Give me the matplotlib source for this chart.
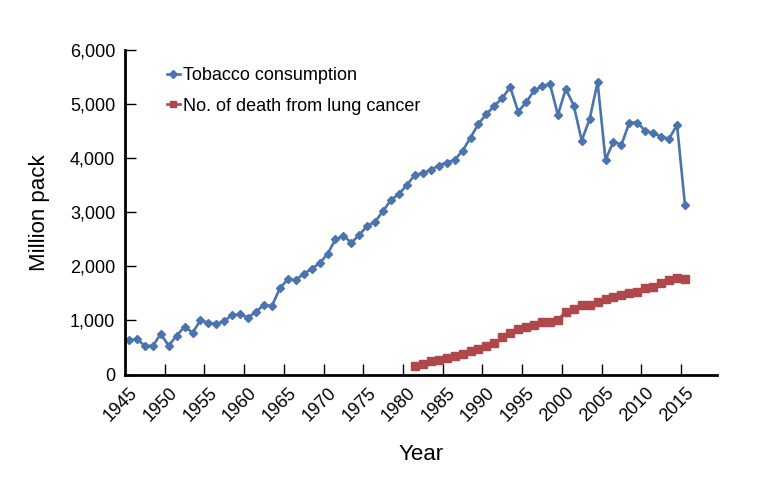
import matplotlib
matplotlib.use('Agg')
import matplotlib.pyplot as plt
import numpy as np

plt.rcParams['font.family'] = ['Liberation Sans', 'DejaVu Sans']

# tobacco consumption, 1945-2015 (million pack)
tobacco_years = list(range(1945, 2016))
tobacco = [638, 651, 533, 527, 749, 533, 718, 884, 773, 1002,
           958, 934, 990, 1100, 1113, 1051, 1162, 1286, 1267, 1594,
           1761, 1748, 1859, 1952, 2057, 2229, 2501, 2562, 2438, 2581,
           2747, 2827, 3025, 3228, 3339, 3506, 3691, 3722, 3783, 3863,
           3918, 3968, 4135, 4381, 4634, 4813, 4967, 5110, 5313, 4862,
           5029, 5251, 5325, 5374, 4801, 5282, 4973, 4325, 4721, 5405,
           3968, 4307, 4246, 4658, 4658, 4505, 4462, 4400, 4357, 4616,
           3136]

# deaths from lung cancer, 1981-2015
death_years = list(range(1981, 2016))
deaths = [157, 194, 244, 268, 311, 348, 385, 435, 477, 527,
          577, 688, 762, 836, 879, 916, 971, 971, 1008, 1162,
          1206, 1280, 1286, 1347, 1391, 1428, 1465, 1514, 1526, 1600,
          1619, 1693, 1743, 1780, 1761]

label_years = list(range(1945, 2020, 5))
y_ticks = [0, 1000, 2000, 3000, 4000, 5000, 6000]

BLUE = '#4b74ae'
RED = '#b0474b'

fig = plt.figure(figsize=(7.74, 4.9), dpi=100)
ax = fig.add_axes([0.1615, 0.2357, 0.7645, 0.6623])

ax.plot(tobacco_years, tobacco, color=BLUE, lw=1.9, marker='D', ms=4.5,
        label='Tobacco consumption')
ax.plot(death_years, deaths, color=RED, lw=1.9, marker='s', ms=6,
        label='No. of death from lung cancer')

ax.set_xlim(1944.5, 2019)
ax.set_ylim(0, 6000)

ax.set_xticks(label_years)
ax.set_xticklabels([str(y) for y in label_years], rotation=45,
                   ha='right', va='top', rotation_mode='anchor')
ax.set_xticks([y - 0.5 for y in label_years[1:]], minor=True)
ax.tick_params(axis='x', which='major', length=0, pad=7, labelsize=13)
ax.tick_params(axis='x', which='minor', length=8, width=1, direction='in')

ax.set_yticks(y_ticks)
ax.set_yticklabels([f'{v:,}' for v in y_ticks])
ax.tick_params(axis='y', length=8, width=1, direction='in', pad=7, labelsize=13)

for s in ['top', 'right']:
    ax.spines[s].set_visible(False)
for s in ['left', 'bottom']:
    ax.spines[s].set_linewidth(2)

ax.set_xlabel('Year', fontsize=16, labelpad=14)
ax.set_ylabel('Million pack', fontsize=16, labelpad=14)

ax.legend(loc='upper left', bbox_to_anchor=(0.043, 0.997), frameon=False,
          fontsize=13, handlelength=0.75, handletextpad=0.15, labelspacing=0.75,
          markerscale=0.8)

plt.savefig('out.png', dpi=100)
